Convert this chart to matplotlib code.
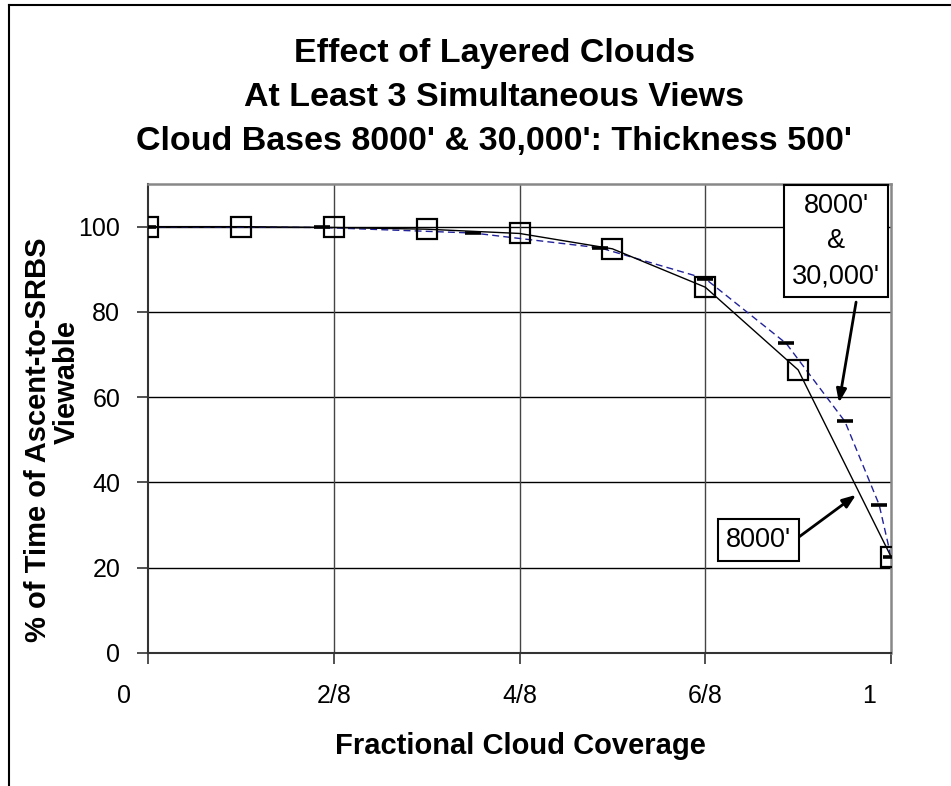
import matplotlib
matplotlib.use("Agg")
import matplotlib.pyplot as plt
from matplotlib.lines import Line2D
from matplotlib.transforms import ScaledTranslation

plt.rcParams['font.family'] = ['Liberation Sans', 'DejaVu Sans']

# Single 8000' layer: coverage in eighths
cov_single = [0, 1/8, 2/8, 3/8, 4/8, 5/8, 6/8, 7/8, 1]
view_single = [100.0, 100.0, 99.8, 99.4, 98.4, 94.8, 85.8, 66.4, 22.6]

# Two layers, 8000' & 30,000'
cov_layered = [0, 0.234, 0.438, 0.609, 0.75, 0.859, 0.938, 0.984, 1.0]
view_layered = [100.0, 99.8, 98.5, 95.0, 87.8, 72.6, 54.3, 34.8, 22.6]

x_ticks = [0, 2/8, 4/8, 6/8, 1]
x_tick_labels = ['0', '2/8', '4/8', '6/8', '1']
y_ticks = [0, 20, 40, 60, 80, 100]

W, H = 951, 786
fig = plt.figure(figsize=(W / 100, H / 100), dpi=100)
ax = fig.add_axes([148 / W, 1 - 653 / H, (891 - 148) / W, (653 - 184) / H])

ax.set_xlim(0, 1)
ax.set_ylim(0, 110)
ax.set_xticks(x_ticks)
ax.set_xticklabels(x_tick_labels)
ax.set_yticks(y_ticks)

for yv in y_ticks[1:]:
    ax.axhline(yv, color='black', lw=1.0, zorder=1)
for xv in x_ticks[1:-1]:
    ax.axvline(xv, color='#444444', lw=1.0, zorder=1)

ax.plot(cov_single, view_single, color='black', lw=1.0, marker='s',
        markersize=15, markerfacecolor='none', markeredgecolor='black',
        markeredgewidth=1.6, zorder=3)
ax.plot(cov_layered, view_layered, color='#22229a', lw=1.0,
        dashes=(5, 3), zorder=2)
ax.plot(cov_layered, view_layered, linestyle='none', marker='_',
        markersize=11, markeredgewidth=2.6, color='black', zorder=4)

for side in ('left', 'bottom'):
    ax.spines[side].set_color('#333333')
    ax.spines[side].set_linewidth(1.5)
for side in ('top', 'right'):
    ax.spines[side].set_color('#888888')
    ax.spines[side].set_linewidth(1.8)

ax.tick_params(axis='both', direction='out', length=8, width=1.2,
               color='#333333', labelsize=18)
ax.tick_params(axis='x', pad=14)
ax.tick_params(axis='y', pad=12)

# end labels sit inward of their ticks
labels = ax.get_xticklabels()
labels[0].set_transform(labels[0].get_transform()
                        + ScaledTranslation(-24 / 100, 0, fig.dpi_scale_trans))
labels[-1].set_transform(labels[-1].get_transform()
                         + ScaledTranslation(-22 / 100, 0, fig.dpi_scale_trans))

# Title lines
title_lines = ["Effect of Layered Clouds",
               "At Least 3 Simultaneous Views",
               "Cloud Bases 8000' & 30,000': Thickness 500'"]
for i, line in enumerate(title_lines):
    fig.text(494 / W, 1 - (62 + 44 * i) / H, line, ha='center',
             va='baseline', fontsize=24.5, fontweight='bold')

# Axis titles
fig.text(38 / W, 1 - 440 / H, "% of Time of Ascent-to-SRBS", rotation=90,
         ha='center', va='center', fontsize=21, fontweight='bold')
fig.text(67 / W, 1 - 382 / H, "Viewable", rotation=90,
         ha='center', va='center', fontsize=21, fontweight='bold')
fig.text(520 / W, 1 - 746 / H, "Fractional Cloud Coverage", ha='center',
         va='center', fontsize=21, fontweight='bold')

# Callouts
box = dict(boxstyle='square,pad=0.3', fc='white', ec='black', lw=1.5)
ax.text(0.926, 96.6, "8000'\n&\n30,000'", ha='center', va='center',
        fontsize=19.5, bbox=box, linespacing=1.45, zorder=6)
ax.text(0.822, 26.5, "8000'", ha='center', va='center', fontsize=19.5,
        bbox=box, zorder=6)
arrow = dict(arrowstyle='-|>,head_length=0.8,head_width=0.3', color='black',
             lw=2.0, shrinkA=0, shrinkB=0)
ax.annotate('', xy=(0.930, 58.7), xytext=(0.953, 82.3), arrowprops=arrow,
            zorder=5)
ax.annotate('', xy=(0.953, 37.1), xytext=(0.876, 27.2), arrowprops=arrow,
            zorder=5)

# Outer frame edges
fig.add_artist(Line2D([9 / W, 9 / W], [0, 1 - 5 / H], color='black', lw=1.5,
                      transform=fig.transFigure))
fig.add_artist(Line2D([9 / W, 1], [1 - 5 / H, 1 - 5 / H], color='black',
                      lw=1.5, transform=fig.transFigure))

fig.savefig('out.png', dpi=100)
